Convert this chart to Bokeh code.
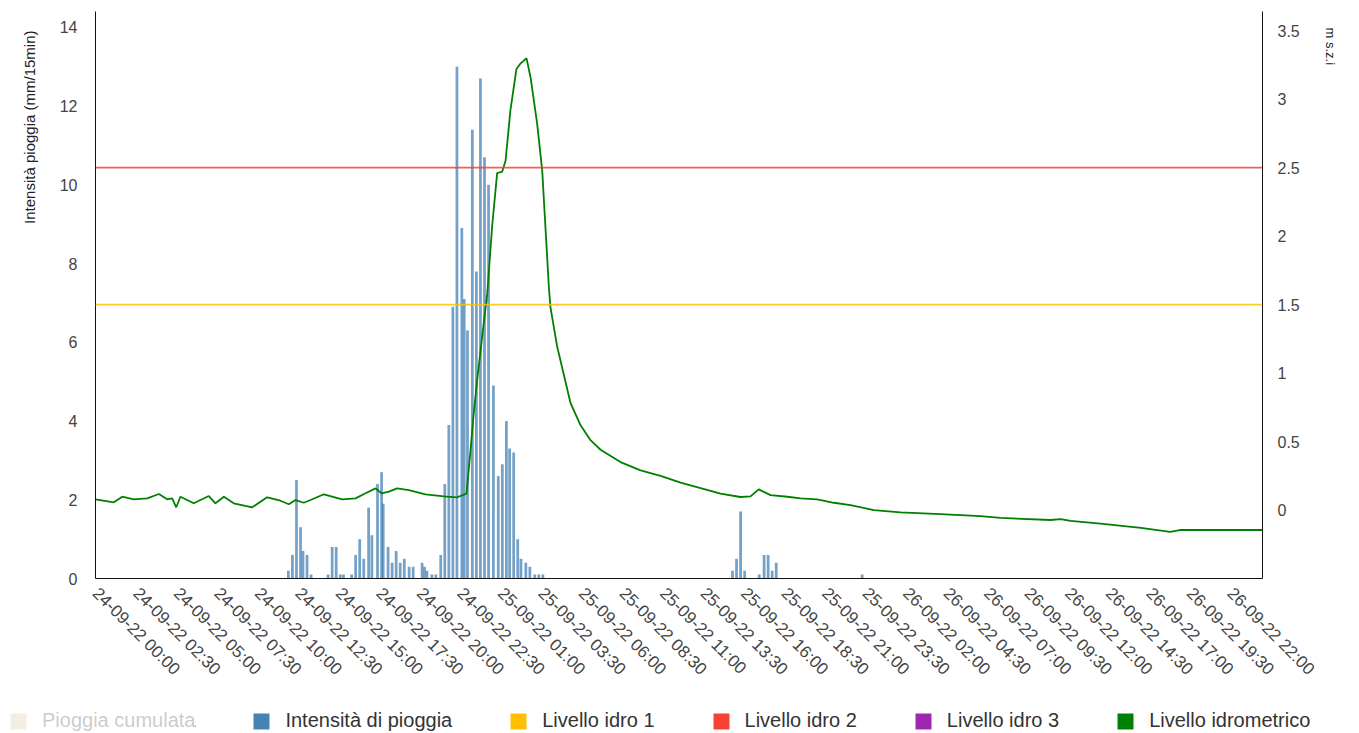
import math
from bokeh.plotting import figure
from bokeh.layouts import column
from bokeh.models import (Range1d, LinearAxis, FixedTicker, Span, Title, Legend,
                          LegendItem, ColumnDataSource)
from bokeh.embed import file_html
from bokeh.resources import INLINE

FONT = "Liberation Sans"

# ---------------- data ----------------
tick_labels = [
    "24-09-22 00:00", "24-09-22 02:30", "24-09-22 05:00", "24-09-22 07:30", "24-09-22 10:00",
    "24-09-22 12:30", "24-09-22 15:00", "24-09-22 17:30", "24-09-22 20:00", "24-09-22 22:30",
    "25-09-22 01:00", "25-09-22 03:30", "25-09-22 06:00", "25-09-22 08:30", "25-09-22 11:00",
    "25-09-22 13:30", "25-09-22 16:00", "25-09-22 18:30", "25-09-22 21:00", "25-09-22 23:30",
    "26-09-22 02:00", "26-09-22 04:30", "26-09-22 07:00", "26-09-22 09:30", "26-09-22 12:00",
    "26-09-22 14:30", "26-09-22 17:00", "26-09-22 19:30", "26-09-22 22:00",
]
tick_step_h = 2.5

rain_hours = [
    11.9, 12.15, 12.4, 12.65, 12.8, 13.05, 13.3,
    14.35, 14.6, 14.85, 15.1, 15.3,
    15.8, 16.05, 16.3, 16.55, 16.85, 17.05, 17.4, 17.65, 17.75, 18.05, 18.3, 18.55, 18.8,
    19.05, 19.35, 19.6,
    20.15, 20.3, 20.45, 20.75, 21.0, 21.3, 21.55, 21.8, 22.05, 22.3, 22.6, 22.75, 22.95,
    23.25, 23.5, 23.75, 24.0, 24.25, 24.55, 24.85, 25.1, 25.35, 25.55, 25.8, 26.05, 26.25,
    26.55, 26.8, 27.1, 27.35, 27.6,
    39.3, 39.55, 39.8, 40.05, 40.95, 41.25, 41.5, 41.75, 42.0, 47.3,
]
rain_values = [
    0.2, 0.6, 2.5, 1.3, 0.7, 0.6, 0.1,
    0.1, 0.8, 0.8, 0.1, 0.1,
    0.1, 0.6, 1.0, 0.5, 1.8, 1.1, 2.4, 2.7, 1.9, 0.8, 0.4, 0.7, 0.4,
    0.5, 0.3, 0.3,
    0.4, 0.3, 0.2, 0.1, 0.1, 0.6, 2.4, 3.9, 6.9, 13.0, 8.9, 7.1, 6.3,
    11.4, 7.8, 12.7, 10.7, 10.0, 4.9, 2.6, 2.9, 4.0, 3.3, 3.2, 1.0, 0.5,
    0.4, 0.3, 0.1, 0.1, 0.1,
    0.2, 0.5, 1.7, 0.2, 0.1, 0.6, 0.6, 0.2, 0.4, 0.1,
]

level_hours = [
    0.0, 1.13, 1.65, 2.36, 3.19, 3.91, 4.42, 4.73, 4.98, 5.24, 6.06, 6.99, 7.40, 7.92,
    8.53, 9.67, 10.59, 11.41, 11.93, 12.34, 12.85, 13.27, 14.09, 15.22, 16.04, 16.66,
    17.28, 17.65, 18.10, 18.61, 19.33, 20.36, 21.49, 22.32, 22.89, 23.14, 23.34, 23.55,
    23.86, 24.17, 24.47, 24.78, 25.09, 25.30, 25.60, 25.97, 26.22, 26.59, 26.84, 27.25,
    27.56, 27.97, 28.07, 28.49, 29.31, 29.92, 30.54, 31.16, 32.39, 33.63, 34.86, 36.10,
    37.33, 38.56, 39.79, 40.41, 40.92, 41.65, 42.68, 43.50, 44.53, 45.55, 46.58, 48.02,
    49.67, 52.13, 54.60, 55.84, 58.92, 59.54, 60.16, 62.00, 64.50, 66.30, 66.90, 72.0,
]
level_m = [
    0.078, 0.056, 0.097, 0.078, 0.085, 0.117, 0.078, 0.085, 0.02, 0.097, 0.049, 0.102, 0.049, 0.097,
    0.049, 0.02, 0.093, 0.068, 0.042, 0.073, 0.053, 0.073, 0.115, 0.078, 0.085, 0.122,
    0.158, 0.122, 0.134, 0.158, 0.146, 0.115, 0.100, 0.093, 0.12, 0.44, 0.71, 0.95,
    1.27, 1.58, 2.07, 2.46, 2.47, 2.55, 2.92, 3.22, 3.26, 3.30, 3.16, 2.82,
    2.48, 1.63, 1.48, 1.19, 0.78, 0.62, 0.51, 0.44, 0.35, 0.29, 0.25, 0.20,
    0.16, 0.12, 0.095, 0.10, 0.151, 0.109, 0.097, 0.085, 0.078, 0.053, 0.036, 0.0,
    -0.017, -0.03, -0.044, -0.058, -0.073, -0.066, -0.08, -0.10, -0.13, -0.16, -0.146, -0.146,
]

idro_values = [1.5, 2.5]
idro_colors = ["#ffc000", "#f44336"]

legend_labels = ["Pioggia cumulata", "Intensità di pioggia", "Livello idro 1",
                 "Livello idro 2", "Livello idro 3", "Livello idrometrico"]
legend_colors = ["#cfb78b", "#4682b4", "#ffc000", "#f44336", "#9c27b0", "#008000"]

# ---------------- main figure ----------------
p = figure(width=1359, height=693, output_backend="svg", toolbar_location=None,
           x_range=Range1d(0, 72), y_range=Range1d(0, 14.4),
           min_border_left=95, min_border_right=97, min_border_top=11, min_border_bottom=115)
p.outline_line_color = None
p.grid.visible = False
p.background_fill_color = "white"
p.extra_y_ranges = {"level": Range1d(-0.5, 3.64)}

rain_src = ColumnDataSource(dict(x=rain_hours, top=rain_values))
p.vbar(x="x", top="top", width=0.17, source=rain_src, fill_color="#4682b4",
       fill_alpha=0.75, line_color=None)

for lv, col in zip(idro_values, idro_colors):
    p.add_layout(Span(location=lv, dimension="width", y_range_name="level",
                      line_color=col, line_width=1.6, line_alpha=0.85))

p.line(level_hours, level_m, y_range_name="level", line_color="#008000",
       line_width=1.8)


def style_axis(ax, size="16px"):
    ax.axis_line_color = "#111111"
    ax.axis_line_width = 1
    ax.major_tick_out = 0
    ax.major_tick_in = 0
    ax.minor_tick_out = 0
    ax.minor_tick_in = 0
    ax.major_label_text_font = FONT
    ax.major_label_text_font_size = size
    ax.major_label_text_color = "#444444"


xa = p.xaxis[0]
style_axis(xa, "17px")
xt = [i * tick_step_h for i in range(len(tick_labels))]
xa.ticker = FixedTicker(ticks=xt)
xa.major_label_overrides = {t: lab for t, lab in zip(xt, tick_labels)}
xa.major_label_orientation = -math.pi / 4
xa.major_label_standoff = 12

ya = p.yaxis[0]
style_axis(ya)
ya.ticker = FixedTicker(ticks=[0, 2, 4, 6, 8, 10, 12, 14])
ya.major_label_standoff = 18

ra = LinearAxis(y_range_name="level")
style_axis(ra)
rt = [0, 0.5, 1, 1.5, 2, 2.5, 3, 3.5]
ra.ticker = FixedTicker(ticks=rt)
ra.major_label_overrides = {t: ("%g" % t) for t in rt}
ra.major_label_standoff = 15
p.add_layout(ra, "right")

p.add_layout(Title(text="Intensità pioggia (mm/15min)", align="right", standoff=34,
                   vertical_align="top", offset=19,
                   text_font=FONT, text_font_size="15px", text_font_style="normal",
                   text_color="#222222"), "left")
p.add_layout(Title(text="m s.z.i", align="left", standoff=36,
                   vertical_align="top", offset=16,
                   text_font=FONT, text_font_size="13px", text_font_style="normal",
                   text_color="#222222"), "right")

# ---------------- legend strip ----------------
lg = figure(width=1359, height=40, output_backend="svg", toolbar_location=None,
            x_range=Range1d(0, 1), y_range=Range1d(0, 1), x_axis_type=None, y_axis_type=None,
            min_border=0, min_border_left=0, min_border_right=0, min_border_top=0,
            min_border_bottom=0)
lg.outline_line_color = None
lg.grid.visible = False

for f in (p, lg):
    if "frame_align" in f.properties():
        f.frame_align = False

nan = float("nan")
items = []
for i, (lab, col) in enumerate(zip(legend_labels, legend_colors)):
    r = lg.quad(left=[nan], right=[nan], top=[nan], bottom=[nan], fill_color=col,
                line_color=None)
    if i == 0:
        r.visible = False
    items.append(LegendItem(label=lab, renderers=[r]))
leg = Legend(items=items, orientation="horizontal", location=(8, 1), click_policy="hide",
             glyph_width=20, glyph_height=20, label_height=20, label_standoff=14, spacing=56,
             padding=0, margin=0, border_line_color=None, background_fill_alpha=0,
             label_text_font=FONT, label_text_font_size="20px", label_text_color="#333333",
             inactive_fill_color="white", inactive_fill_alpha=0.75)
lg.add_layout(leg, "center")

layout = column(p, lg, spacing=0)
open("out.html", "w").write(file_html(layout, INLINE))
